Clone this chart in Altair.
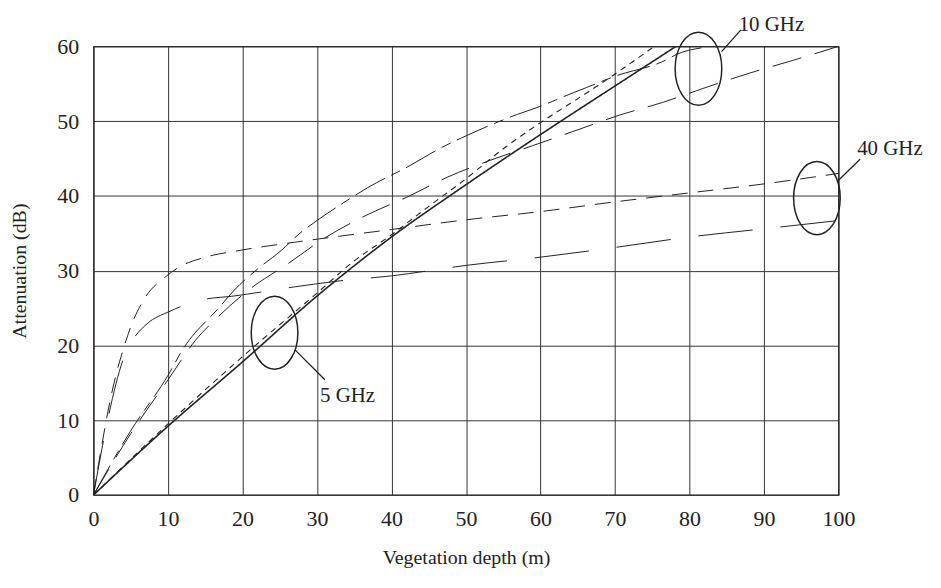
import altair as alt
import pandas as pd

# ---- data (x: vegetation depth m, y: attenuation dB) ----
g5_solid_x = [0, 10, 20, 30, 40, 50, 60, 70, 78.2]
g5_solid_y = [0, 9.2, 17.8, 26.6, 34.5, 41.5, 48.2, 54.7, 60]

g5_dash_x = [0, 10, 20, 30, 35, 40, 45, 50, 55, 60, 65, 70, 75]
g5_dash_y = [0, 9.5, 18.5, 27, 31.3, 34.8, 38.6, 42.3, 46.3, 49.8, 53, 56.3, 59.8]

g10_up_x = [0, 5, 10, 12, 16.8, 18.9, 22, 25.2, 27.7, 30, 33.9, 36.8, 42.2, 46.6,
            51.5, 56.9, 59.5, 64.4, 66.2, 70, 76.9, 78.2, 81.6]
g10_up_y = [0, 8.6, 16, 19.5, 25, 27.4, 30.2, 32.7, 35, 36.7, 39.3, 41.1, 43.9, 46.4,
            48.7, 50.9, 51.8, 53.8, 54.5, 56, 58.2, 58.9, 59.8]

g10_lo_x = [0, 5, 10, 13.7, 16.8, 20.8, 26.2, 31.1, 36.6, 42, 47.5, 53.1, 58.9,
            64.9, 70.6, 76.4, 82.2, 88, 93.8, 100]
g10_lo_y = [0, 8.2, 15.4, 20.7, 23.9, 27.4, 31, 34.4, 37.4, 39.8, 42.5, 44.7, 46.7,
            48.8, 50.8, 52.5, 54.5, 56.4, 58.1, 60]

g40_up_x = [0, 1, 2, 3, 4, 5, 7, 9.7, 11.2, 15, 19, 27, 33, 40, 50, 60, 70, 80, 90, 100]
g40_up_y = [0, 6, 11.5, 16, 19.5, 22.5, 26.5, 29.2, 30.3, 31.8, 32.6, 33.8, 34.6,
            35.5, 36.8, 37.9, 39.2, 40.4, 41.6, 43]

g40_lo_x = [0, 1, 2, 3, 4, 5, 7.2, 10.1, 14.6, 18.8, 26.8, 32.8, 40, 50, 60, 70, 80, 90, 100]
g40_lo_y = [0, 5.5, 10.5, 14.8, 18.2, 20.3, 22.9, 24.5, 26.1, 26.6, 27.8, 28.6, 29.3,
            30.7, 31.8, 33.1, 34.5, 35.6, 36.7]

# annotations
label_text = ["5 GHz", "10 GHz", "40 GHz"]
label_x = [30.4, 86.6, 102.5]
label_y = [13.2, 62.9, 46.2]

ellipse_x = [24.3, 81.2, 97.1]
ellipse_y = [21.7, 57.0, 39.7]

leader_x = [27.05, 84.3, 100.0]
leader_y = [19.4, 59.3, 42.1]
leader_x2 = [31.05, 86.9, 102.9]
leader_y2 = [15.4, 62.2, 44.9]

x_ticks = [0, 10, 20, 30, 40, 50, 60, 70, 80, 90, 100]
y_ticks = [0, 10, 20, 30, 40, 50, 60]

FONT = "Liberation Serif"
INK = "#222222"

series = [
    (g5_solid_x, g5_solid_y, [1, 0], 1.6),
    (g5_dash_x, g5_dash_y, [6, 5], 1.1),
    (g10_up_x, g10_up_y, [34, 7, 10, 7], 1.0),
    (g10_lo_x, g10_lo_y, [30, 14], 1.0),
    (g40_up_x, g40_up_y, [16, 10], 1.0),
    (g40_lo_x, g40_lo_y, [55, 28], 1.0),
]

xs = alt.Scale(domain=[0, 100], nice=False, zero=False)
ys = alt.Scale(domain=[0, 60], nice=False, zero=False)

x_axis = alt.Axis(values=x_ticks, title="Vegetation depth (m)", labelPadding=14,
                  titleX=374.5, titleY=63, titleBaseline="middle", titleAlign="center")
y_axis = alt.Axis(values=y_ticks, title="Attenuation (dB)", labelPadding=15,
                  titleX=-74, titleY=225.5, titleBaseline="middle", titleAlign="center",
                  titleAngle=270)

X = alt.X("x:Q", scale=xs, axis=x_axis)
Y = alt.Y("y:Q", scale=ys, axis=y_axis)

layers = []
for sx, sy, dash, w in series:
    df = pd.DataFrame({"x": sx, "y": sy})
    layers.append(
        alt.Chart(df).mark_line(color=INK, strokeWidth=w, strokeDash=dash,
                                interpolate="monotone", clip=True)
        .encode(x=X, y=Y)
    )

ell = pd.DataFrame({"x": ellipse_x, "y": ellipse_y})
k = 0.638
c = round(0.5523 * k, 4)
ellipse_path = (f"M {k} 0 C {k} 0.5523 {c} 1 0 1 C {-c} 1 {-k} 0.5523 {-k} 0 "
                f"C {-k} -0.5523 {-c} -1 0 -1 C {c} -1 {k} -0.5523 {k} 0 Z")
layers.append(
    alt.Chart(ell).mark_point(shape=ellipse_path, size=5400, filled=False,
                              color=INK, strokeWidth=1.5, opacity=1)
    .encode(x=X, y=Y)
)

lead = pd.DataFrame({"x": leader_x, "y": leader_y, "x2": leader_x2, "y2": leader_y2})
layers.append(
    alt.Chart(lead).mark_rule(color=INK, strokeWidth=1.3)
    .encode(x=X, y=Y, x2="x2:Q", y2="y2:Q")
)

lab = pd.DataFrame({"x": label_x, "y": label_y, "t": label_text})
layers.append(
    alt.Chart(lab).mark_text(font=FONT, fontSize=21, color=INK, align="left",
                             baseline="middle")
    .encode(x=X, y=Y, text="t:N")
)

chart = alt.layer(*layers).properties(
    width=749, height=451,
    autosize=alt.AutoSizeParams(type="none"),
    padding={"left": 86, "top": 37, "right": 95, "bottom": 85},
).configure_view(
    stroke="#222222", strokeWidth=1.3
).configure_axis(
    grid=True, ticks=False, domain=False, labelFlush=False,
    labelFont=FONT, labelFontSize=22, labelColor=INK,
    titleFont=FONT, titleFontSize=20, titleFontWeight="normal", titleColor=INK,
    gridColor="#333333", gridOpacity=1, gridWidth=1,
)

chart.save("out.html", embed_options={"renderer": "svg", "actions": False})
